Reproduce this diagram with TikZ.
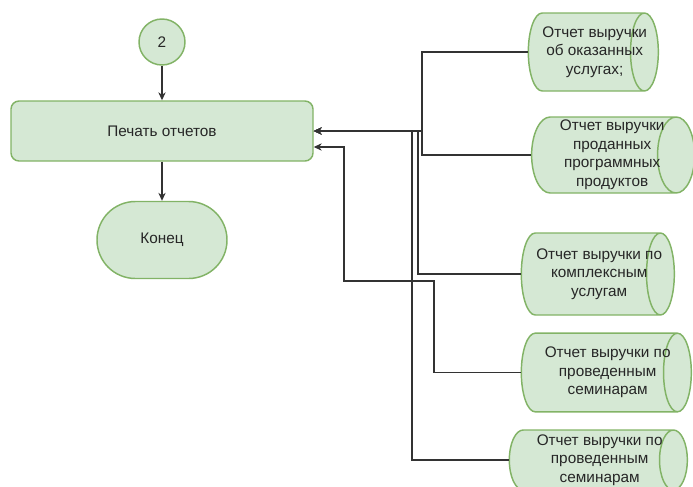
\documentclass[tikz,border=0pt]{standalone}
\usepackage{fontspec}
\setmainfont{Liberation Sans}
\usetikzlibrary{shapes.geometric,arrows.meta}
\definecolor{boxfill}{HTML}{D5E8D4}
\definecolor{boxline}{HTML}{82B366}
\definecolor{linegray}{HTML}{333333}
% text of a cylinder may run over its end cap
\newcommand{\cyltext}[1]{\makebox[0pt]{\hspace{13pt}\begin{tabular}{@{}c@{}}#1\end{tabular}}}
\tikzset{
  box/.style={draw=boxline,fill=boxfill,line width=1.1pt,text=black!85,
    font=\fontsize{11.5}{13.9}\selectfont,align=center},
  report/.style={box,cylinder,shape border rotate=0,aspect=0.5,inner sep=0pt},
  conn/.style={linegray,line width=0.8pt,-{Stealth[length=6pt,width=5.5pt]}}
}

\begin{document}
\begin{tikzpicture}[x=0.75pt,y=-0.75pt]
  \useasboundingbox (0,0) rectangle (693,486);
  \node[box,circle,minimum size=34.5pt,inner sep=0pt] (two) at (162,42) {2};
  \node[box,rounded corners=6pt,minimum width=226.5pt,minimum height=45pt] (print) at (162,131) {Печать отчетов};
  \node[box,rounded corners=28.8pt,minimum width=97.5pt,minimum height=57.75pt] (fin) at (162,240) {Конец};
  % cylinder: minimum height = length, minimum width = diameter
  \foreach \n/\x/\y/\w/\h/\t in {r1/586/52/97.5/58.5/{Отчет выручки\\об оказанных\\услугах;},
      r2/603.5/155/122.25/57/{Отчет выручки\\проданных\\программных\\продуктов},
      r3/590.5/274/114.75/61.5/{Отчет выручки по\\комплексным\\услугам},
      r4/599/372.5/127.5/59/{Отчет выручки по\\проведенным\\семинарам},
      r5/591/460/133.5/45/{Отчет выручки по\\проведенным\\семинарам}}
    \node[report,minimum height=\w pt,minimum width=\h pt] (\n) at (\x,\y) {\cyltext{\t}};
  \draw[conn] (two) -- (print);
  \draw[conn] (print) -- (fin);
  \draw[conn] (r1.west) -| (422,131) -- (print.east);
  \draw[conn] (r2.west) -| (422,131) -- (print.east);
  \draw[conn] (r3.west) -| (418,131) -- (print.east);
  \draw[conn] (r5.west) -| (412,131) -- (print.east);
  \draw[conn] (r4.west) -| (434,281) -| (344,147) -- ([yshift=-12pt]print.east);
\end{tikzpicture}
\end{document}
